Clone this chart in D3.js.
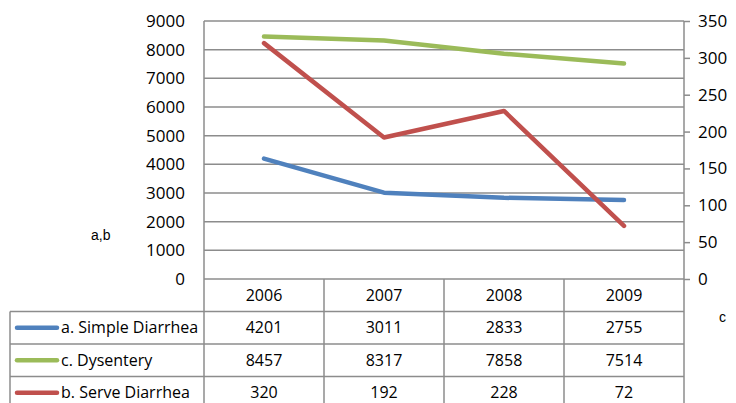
<!DOCTYPE html>
<html>
<head>
<meta charset="utf-8">
<script src="https://cdn.jsdelivr.net/npm/d3@7"></script>
<style>
  html, body { margin: 0; padding: 0; background: #fff; }
  svg { display: block; }
</style>
</head>
<body>
<svg id="chart" width="736" height="403"></svg>
<script>
// Categories and series
const years = ["2006", "2007", "2008", "2009"];
const simpleDiarrhea = [4201, 3011, 2833, 2755];
const dysentery = [8457, 8317, 7858, 7514];
const serveDiarrhea = [320, 192, 228, 72];
const leftTicks = [0, 1000, 2000, 3000, 4000, 5000, 6000, 7000, 8000, 9000];
const rightTicks = [0, 50, 100, 150, 200, 250, 300, 350];

const series = [
  { name: "a. Simple Diarrhea", values: simpleDiarrhea, axis: "left", color: "#4F81BD" },
  { name: "c. Dysentery", values: dysentery, axis: "left", color: "#9BBB59" },
  { name: "b. Serve Diarrhea", values: serveDiarrhea, axis: "right", color: "#C0504D" }
];

const svg = d3.select("#chart");
const font = "'Open Sans', sans-serif";
const grid = "#8c8c8c";

const plot = { left: 204, right: 684, top: 21, bottom: 279 };
const tableLeft = 10;
const rowH = 32.5;

const x = d3.scaleBand().domain(years).range([plot.left, plot.right]);
const yL = d3.scaleLinear().domain([0, 9000]).range([plot.bottom, plot.top]);
const yR = d3.scaleLinear().domain([0, 350]).range([plot.bottom, plot.top]);

// Horizontal gridlines
svg.append("g").selectAll("line").data(leftTicks).join("line")
  .attr("x1", plot.left).attr("x2", plot.right)
  .attr("y1", d => yL(d)).attr("y2", d => yL(d))
  .attr("stroke", grid).attr("stroke-width", 1.5);

// Left axis
const leftAxis = svg.append("g")
  .attr("transform", `translate(${plot.left},0)`)
  .call(d3.axisLeft(yL).tickValues(leftTicks).tickFormat(d3.format("d"))
    .tickSize(0).tickPadding(19));
leftAxis.select(".domain").remove();
leftAxis.selectAll("text").attr("font-family", font).attr("font-size", 17).attr("fill", "#000");

// Right axis
const rightAxis = svg.append("g")
  .attr("transform", `translate(${plot.right},0)`)
  .call(d3.axisRight(yR).tickValues(rightTicks).tickFormat(d3.format("d"))
    .tickSize(6).tickPadding(8));
rightAxis.select(".domain").remove();
rightAxis.selectAll("line").attr("stroke", grid).attr("stroke-width", 1.5);
rightAxis.selectAll("text").attr("font-family", font).attr("font-size", 17).attr("fill", "#000");

// Axis titles
svg.append("text").attr("x", 91).attr("y", 240)
  .attr("font-family", "'Liberation Sans', Arial, sans-serif").attr("font-size", 14)
  .text("a,b");
svg.append("text").attr("x", 719).attr("y", 322)
  .attr("font-family", "'Liberation Sans', Arial, sans-serif").attr("font-size", 14)
  .text("c");

// Data table
const rowsTop = plot.bottom + rowH;
const tableBottom = rowsTop + rowH * 3;
const tg = svg.append("g").attr("stroke", grid).attr("stroke-width", 1.5);
// vertical lines through the plot edges and columns
[plot.left, ...years.map(d => x(d) + x.bandwidth())].forEach((vx, i) => {
  tg.append("line").attr("x1", vx).attr("x2", vx)
    .attr("y1", (i === 0 || i === years.length) ? plot.top : plot.bottom)
    .attr("y2", tableBottom);
});
tg.append("line").attr("x1", tableLeft).attr("x2", tableLeft)
  .attr("y1", rowsTop).attr("y2", tableBottom);
d3.range(4).forEach(i => {
  const yy = rowsTop + rowH * i;
  tg.append("line").attr("x1", tableLeft).attr("x2", plot.right)
    .attr("y1", yy).attr("y2", yy);
});

// Header row: year labels
svg.append("g").selectAll("text").data(years).join("text")
  .attr("x", d => x(d) + x.bandwidth() / 2)
  .attr("y", plot.bottom + rowH / 2)
  .attr("dy", "0.35em").attr("text-anchor", "middle")
  .attr("font-family", font).attr("font-size", 16)
  .text(d => d);

// Series rows
series.forEach((s, i) => {
  const cy = rowsTop + rowH * i + rowH / 2;
  svg.append("line").attr("x1", 17).attr("x2", 57).attr("y1", cy).attr("y2", cy)
    .attr("stroke", s.color).attr("stroke-width", 4.5).attr("stroke-linecap", "round");
  svg.append("text").attr("x", 61).attr("y", cy).attr("dy", "0.35em")
    .attr("font-family", font).attr("font-size", 16)
    .text(s.name);
  svg.append("g").selectAll("text").data(s.values).join("text")
    .attr("x", (d, j) => x(years[j]) + x.bandwidth() / 2)
    .attr("y", cy).attr("dy", "0.35em").attr("text-anchor", "middle")
    .attr("font-family", font).attr("font-size", 16)
    .text(d => d);
});

// Lines
series.forEach(s => {
  const yS = s.axis === "left" ? yL : yR;
  const line = d3.line()
    .x((d, j) => x(years[j]) + x.bandwidth() / 2)
    .y(d => yS(d));
  svg.append("path").datum(s.values)
    .attr("d", line)
    .attr("fill", "none")
    .attr("stroke", s.color)
    .attr("stroke-width", 4.5)
    .attr("stroke-linecap", "round")
    .attr("stroke-linejoin", "round");
});
</script>
</body>
</html>
